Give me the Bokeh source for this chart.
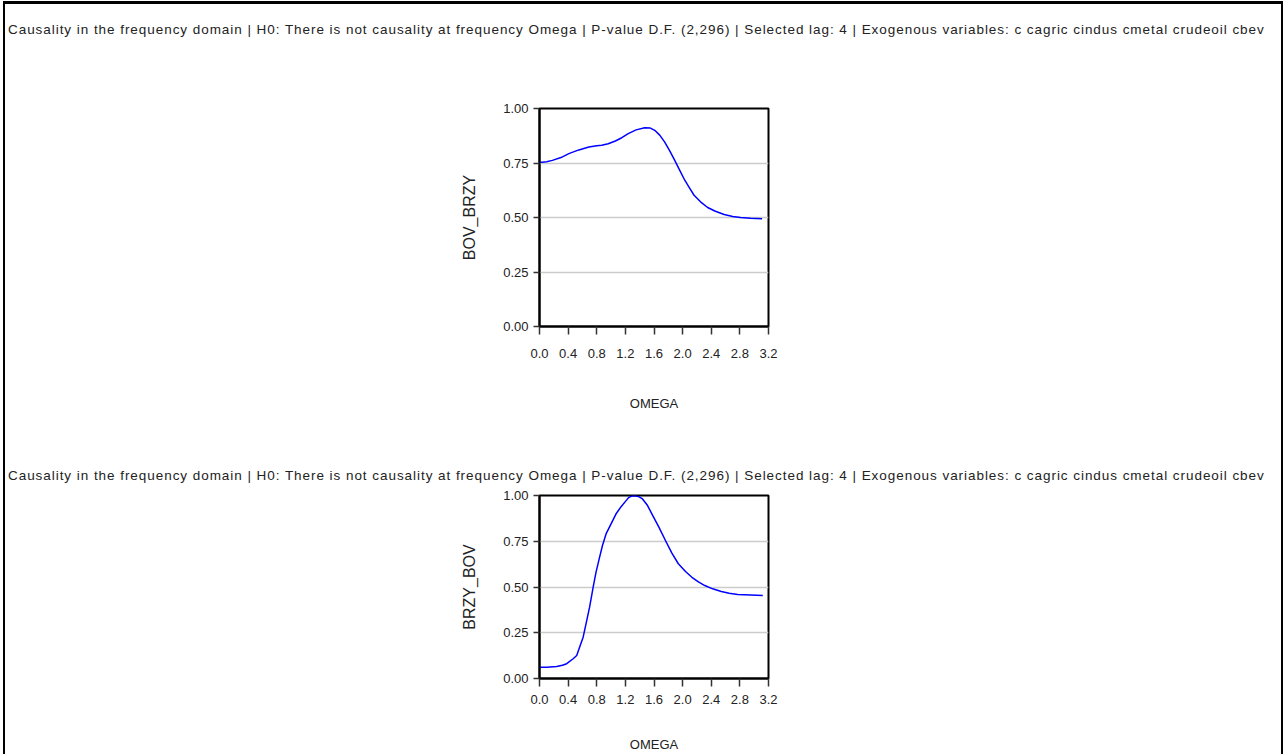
from bokeh.plotting import figure
from bokeh.models import Range1d, FixedTicker, NumeralTickFormatter, Div
from bokeh.layouts import column
from bokeh.embed import file_html
from bokeh.resources import INLINE

title_text = ("Causality in the frequency domain | H0: There is not causality at frequency Omega | "
              "P-value D.F. (2,296) | Selected lag: 4 | Exogenous variables: c cagric cindus cmetal crudeoil cbev")

x_ticks = [0.0, 0.4, 0.8, 1.2, 1.6, 2.0, 2.4, 2.8, 3.2]
y_ticks = [0.0, 0.25, 0.5, 0.75, 1.0]

omega_top = [0.00, 0.10, 0.18, 0.30, 0.41, 0.55, 0.69, 0.80, 0.87, 0.96, 1.06, 1.15, 1.24, 1.35,
             1.47, 1.55, 1.61, 1.68, 1.75, 1.82, 1.89, 1.96, 2.03, 2.10, 2.16, 2.25, 2.35, 2.45,
             2.58, 2.70, 2.81, 2.95, 3.11]
bov_brzy = [0.752, 0.756, 0.762, 0.775, 0.793, 0.810, 0.823, 0.829, 0.831, 0.838, 0.851, 0.866,
            0.885, 0.902, 0.912, 0.910, 0.900, 0.878, 0.846, 0.806, 0.762, 0.716, 0.671, 0.634,
            0.602, 0.572, 0.546, 0.530, 0.514, 0.505, 0.500, 0.496, 0.494]

omega_bot = [0.01, 0.10, 0.24, 0.32, 0.38, 0.47, 0.52, 0.56, 0.61, 0.65, 0.70, 0.75, 0.79, 0.84,
             0.88, 0.93, 1.00, 1.07, 1.14, 1.21, 1.25, 1.29, 1.32, 1.38, 1.44, 1.51, 1.57, 1.67,
             1.76, 1.85, 1.94, 2.04, 2.13, 2.22, 2.31, 2.42, 2.54, 2.65, 2.77, 2.95, 3.12]
brzy_bov = [0.062, 0.062, 0.066, 0.072, 0.081, 0.108, 0.126, 0.171, 0.226, 0.299, 0.390, 0.499,
            0.581, 0.663, 0.727, 0.790, 0.845, 0.900, 0.939, 0.972, 0.990, 0.997, 0.999, 0.995,
            0.981, 0.945, 0.900, 0.826, 0.754, 0.685, 0.627, 0.585, 0.553, 0.528, 0.508, 0.490,
            0.475, 0.466, 0.459, 0.456, 0.454]

FONT = "Liberation Sans"
W = 1276


def make_title(height, pad_top):
    return Div(text=title_text, width=W, height=height, margin=0,
               styles={"font-family": FONT, "font-size": "13.5px", "line-height": "16px",
                       "letter-spacing": "0.95px",
                       "color": "#222222", "padding-top": f"{pad_top}px", "padding-left": "3px",
                       "white-space": "nowrap", "overflow": "hidden", "box-sizing": "border-box"})


def make_plot(xs, ys, ylabel, height, mb_left, mb_right, mb_top, mb_bottom,
              tick_standoff, label_standoff):
    p = figure(width=W, height=height, output_backend="svg", toolbar_location=None,
               x_range=Range1d(0, 3.2), y_range=Range1d(0, 1.0), margin=0,
               min_border_left=mb_left, min_border_right=mb_right,
               min_border_top=mb_top, min_border_bottom=mb_bottom)
    p.line(xs, ys, line_color="#0000ff", line_width=1.5, line_join="round")
    p.outline_line_color = "black"
    p.outline_line_width = 2
    p.xgrid.grid_line_color = None
    p.ygrid.grid_line_color = "#cccccc"
    p.ygrid.grid_line_width = 1.5
    p.xaxis.ticker = FixedTicker(ticks=x_ticks)
    p.yaxis.ticker = FixedTicker(ticks=y_ticks)
    p.xaxis.formatter = NumeralTickFormatter(format="0.0")
    p.yaxis.formatter = NumeralTickFormatter(format="0.00")
    for ax in (p.xaxis, p.yaxis):
        ax.axis_line_color = "black"
        ax.axis_line_width = 2
        ax.major_tick_line_color = "#333333"
        ax.major_tick_line_width = 1.5
        ax.major_tick_in = 0
        ax.minor_tick_line_color = None
        ax.major_label_text_color = "#222222"
        ax.major_label_text_font = FONT
        ax.major_label_text_font_size = "13px"
    p.xaxis.major_tick_out = 8
    p.yaxis.major_tick_out = 6
    p.xaxis.major_label_standoff = tick_standoff
    p.yaxis.major_label_standoff = 5
    p.xaxis.axis_label = "OMEGA"
    p.xaxis.axis_label_text_font = FONT
    p.xaxis.axis_label_text_font_size = "13px"
    p.xaxis.axis_label_text_font_style = "normal"
    p.xaxis.axis_label_text_color = "#222222"
    p.xaxis.axis_label_standoff = label_standoff
    p.yaxis.axis_label = ylabel
    p.yaxis.axis_label_text_font = FONT
    p.yaxis.axis_label_text_font_size = "16px"
    p.yaxis.axis_label_text_font_style = "normal"
    p.yaxis.axis_label_text_color = "#222222"
    p.yaxis.axis_label_standoff = 22
    return p


title1 = make_title(50, 18)
top = make_plot(omega_top, bov_brzy, "BOV_BRZY", 406, 532, 513, 54, 134, 14, 35)
title2 = make_title(28, 8)
bot = make_plot(omega_bot, brzy_bov, "BRZY_BOV", 266, 534, 510, 7, 76, 8, 30)

layout = column(title1, top, title2, bot, spacing=0, margin=(1, 0, 0, 3),
                styles={"border-top": "3px solid black", "border-left": "2px solid black",
                        "border-right": "2px solid black"})

open("out.html", "w").write(file_html(layout, INLINE))
